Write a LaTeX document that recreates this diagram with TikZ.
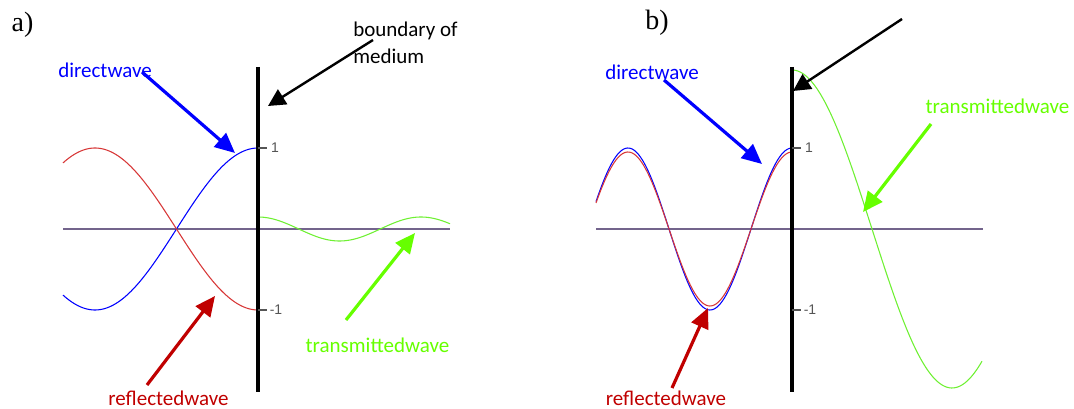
\documentclass[tikz,border=0pt]{standalone}
\usepackage{fontspec}
\setmainfont{Liberation Serif}
\newfontfamily\labfont{Carlito}
\newfontfamily\tickfont{Liberation Sans}
\usetikzlibrary{arrows.meta}
\definecolor{myblue}{RGB}{0,0,255}
\definecolor{curvered}{RGB}{215,55,55}
\definecolor{darkred}{RGB}{192,0,0}
\definecolor{mygreen}{RGB}{102,255,0}
\definecolor{curvegreen}{RGB}{110,240,50}
\definecolor{axiscol}{RGB}{115,100,140}
\definecolor{tickcol}{RGB}{85,85,85}
\tikzset{
  panellabel/.style={font=\fontsize{21pt}{24pt}\selectfont, inner sep=0pt},
  wavelabel/.style={font=\labfont\fontsize{15.75pt}{20.25pt}\selectfont, inner sep=0pt},
  ticklabel/.style={font=\tickfont\fontsize{10.5pt}{12pt}\selectfont, text=tickcol, inner sep=0pt},
  boundary/.style={line width=3pt, black},
  axisline/.style={line width=0.8pt, axiscol},
  tickline/.style={line width=1.1pt, tickcol},
  curve/.style={line width=0.8pt, smooth},
  pointer/.style={line width=2.4pt, -{Triangle[length=15pt,width=13.5pt]}},
  blackpointer/.style={line width=1.8pt, -{Triangle[length=13pt,width=13pt]}}
}
\begin{document}
\begin{tikzpicture}[x=0.75pt,y=-0.75pt]
\useasboundingbox (0,0) rectangle (1074,409);

% ---------------- panel a ----------------
\node[panellabel] (alab) at (22.5,25) {a)};
\draw[axisline] (63,229) -- (450,229);
\draw[curve, myblue] plot[domain=63:258, samples=90] (\x, {229-81*cos((\x-258)/163*180)});
\draw[curve, curvered] plot[domain=63:258, samples=90] (\x, {229+81*cos((\x-258)/163*180)});
\draw[curve, curvegreen] plot[domain=258:450, samples=90] (\x, {229-12*cos((\x-258)/163*360)});
\coordinate (atop) at (258,67);
\coordinate (abot) at (258,392);
\draw[boundary] (atop) -- (abot);
\coordinate (atick1) at (258,148);
\coordinate (atick1e) at (267,148);
\coordinate (atickm) at (258,310);
\coordinate (atickme) at (267,310);
\draw[tickline] (atick1) -- (atick1e);
\draw[tickline] (atickm) -- (atickme);
\node[ticklabel] (aone) at (275,148) {1};
\node[ticklabel] (amone) at (276,310) {-1};

\node[wavelabel, text=myblue] (adirect) at (105,70) {directwave};
\node[wavelabel, text=black, align=left, anchor=west] (abound) at (353,42.5) {boundary of\\medium};
\node[wavelabel, text=darkred] (arefl) at (168.5,398.5) {reflectedwave};
\node[wavelabel, text=mygreen] (atrans) at (377.5,345) {transmittedwave};

\coordinate (adirS) at (142,72);   \coordinate (adirT) at (235,153);
\coordinate (abndS) at (373,40);   \coordinate (abndT) at (268,106);
\coordinate (arefS) at (147,385);  \coordinate (arefT) at (215,296);
\coordinate (atraS) at (346,320);  \coordinate (atraT) at (415,233);
\draw[pointer, myblue] (adirS) -- (adirT);
\draw[blackpointer, black] (abndS) -- (abndT);
\draw[pointer, darkred] (arefS) -- (arefT);
\draw[pointer, mygreen] (atraS) -- (atraT);

% ---------------- panel b ----------------
\node[panellabel] (blab) at (657,23) {b)};
\draw[axisline] (596,229) -- (983,229);
\draw[curve, myblue] plot[domain=596:792, samples=120] (\x, {229-81*cos((\x-792)/82*180)});
\draw[curve, curvered] plot[domain=596:792, samples=120] (\x, {229-77*cos((\x-792)/82*180)});
\draw[curve, curvegreen] plot[domain=792:982, samples=100] (\x, {229-159*cos((\x-792)/160*180)});
\coordinate (btop) at (792,67);
\coordinate (bbot) at (792,392);
\draw[boundary] (btop) -- (bbot);
\coordinate (btick1) at (792,148);
\coordinate (btick1e) at (801,148);
\coordinate (btickm) at (792,310);
\coordinate (btickme) at (801,310);
\draw[tickline] (btick1) -- (btick1e);
\draw[tickline] (btickm) -- (btickme);
\node[ticklabel] (bone) at (809,148) {1};
\node[ticklabel] (bmone) at (810,310) {-1};

\node[wavelabel, text=myblue] (bdirect) at (652,72) {directwave};
\node[wavelabel, text=darkred] (brefl) at (666,398.5) {reflectedwave};
\node[wavelabel, text=mygreen] (btrans) at (997.5,106) {transmittedwave};

\coordinate (bdirS) at (664,80);   \coordinate (bdirT) at (762,164);
\coordinate (bbndS) at (902,19);   \coordinate (bbndT) at (793,91);
\coordinate (brefS) at (672,388);  \coordinate (brefT) at (708,308);
\coordinate (btraS) at (931,124);  \coordinate (btraT) at (863,212);
\draw[pointer, myblue] (bdirS) -- (bdirT);
\draw[blackpointer, black] (bbndS) -- (bbndT);
\draw[pointer, darkred] (brefS) -- (brefT);
\draw[pointer, mygreen] (btraS) -- (btraT);
\end{tikzpicture}
\end{document}
